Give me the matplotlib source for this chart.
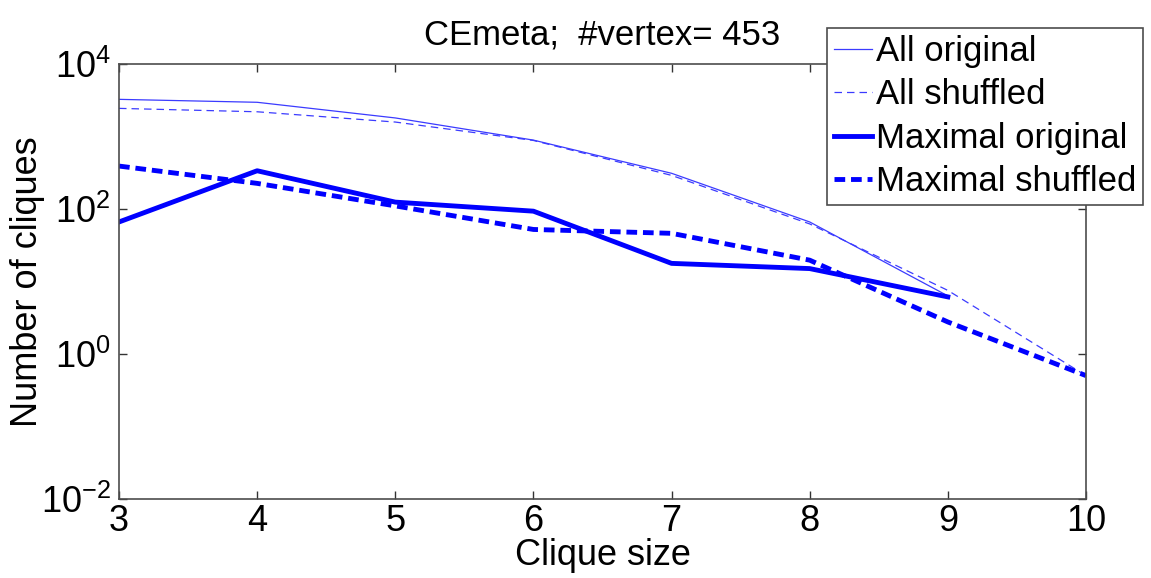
import matplotlib
matplotlib.use('Agg')
import matplotlib.pyplot as plt
import numpy as np

plt.rcParams['font.family'] = ['Liberation Sans', 'DejaVu Sans']
plt.rcParams['mathtext.fontset'] = 'custom'
plt.rcParams['mathtext.rm'] = 'Liberation Sans'
plt.rcParams['axes.unicode_minus'] = False

# clique counts per clique size
sizes = [3, 4, 5, 6, 7, 8, 9, 10]
all_original = [3250, 2960, 1800, 890, 310, 66, 6.3]
all_shuffled = [2440, 2190, 1580, 880, 290, 62, 7.5, 0.5]
max_original = [66, 336, 124, 93, 17.7, 15, 6.1]
max_shuffled = [390, 225, 110, 52, 46, 19.6, 2.75, 0.5]

fig = plt.figure(figsize=(11.51, 5.78), dpi=100)
ax = fig.add_axes([0.1034, 0.1372, 0.8401, 0.7521])

ax.semilogy(sizes[:len(all_original)], all_original, color='#3b3bff', lw=0.9, label='All original')
ax.semilogy(sizes, all_shuffled, color='#3b3bff', lw=0.9, ls=(0, (6, 4)), label='All shuffled')
ax.semilogy(sizes[:len(max_original)], max_original, color='#0000ff', lw=3.5, label='Maximal original')
ax.semilogy(sizes, max_shuffled, color='#0000ff', lw=3.5, ls=(0, (2.2, 1.2)), label='Maximal shuffled')

ax.set_xlim(3, 10)
ax.set_ylim(1e-2, 1e4)
ax.set_xticks(sizes)
ax.set_yticks([1e-2, 1e0, 1e2, 1e4])
ax.yaxis.set_minor_locator(matplotlib.ticker.NullLocator())
ax.tick_params(direction='in', top=True, right=True, length=6, width=1,
               color='0.2', labelsize=26, pad=4)
ax.tick_params(axis='y', pad=6)
for s in ax.spines.values():
    s.set_color('0.3')
    s.set_linewidth(1.2)

ax.set_xlabel('Clique size', fontsize=26, labelpad=-1)
ax.set_ylabel('Number of cliques', fontsize=26, labelpad=-3)
ax.set_title('CEmeta;  #vertex= 453', fontsize=25, pad=14)

leg = ax.legend(loc='upper right', bbox_to_anchor=(0.993, 0.9516),
                bbox_transform=fig.transFigure, fontsize=25, frameon=True,
                fancybox=False, handlelength=1.1, handletextpad=0.1,
                labelspacing=0.3, borderpad=0.2, borderaxespad=0)
leg.get_frame().set_edgecolor('0.3')
leg.get_frame().set_linewidth(1.2)
leg.get_frame().set_alpha(1)

fig.savefig('out.png', dpi=100, facecolor='white')
